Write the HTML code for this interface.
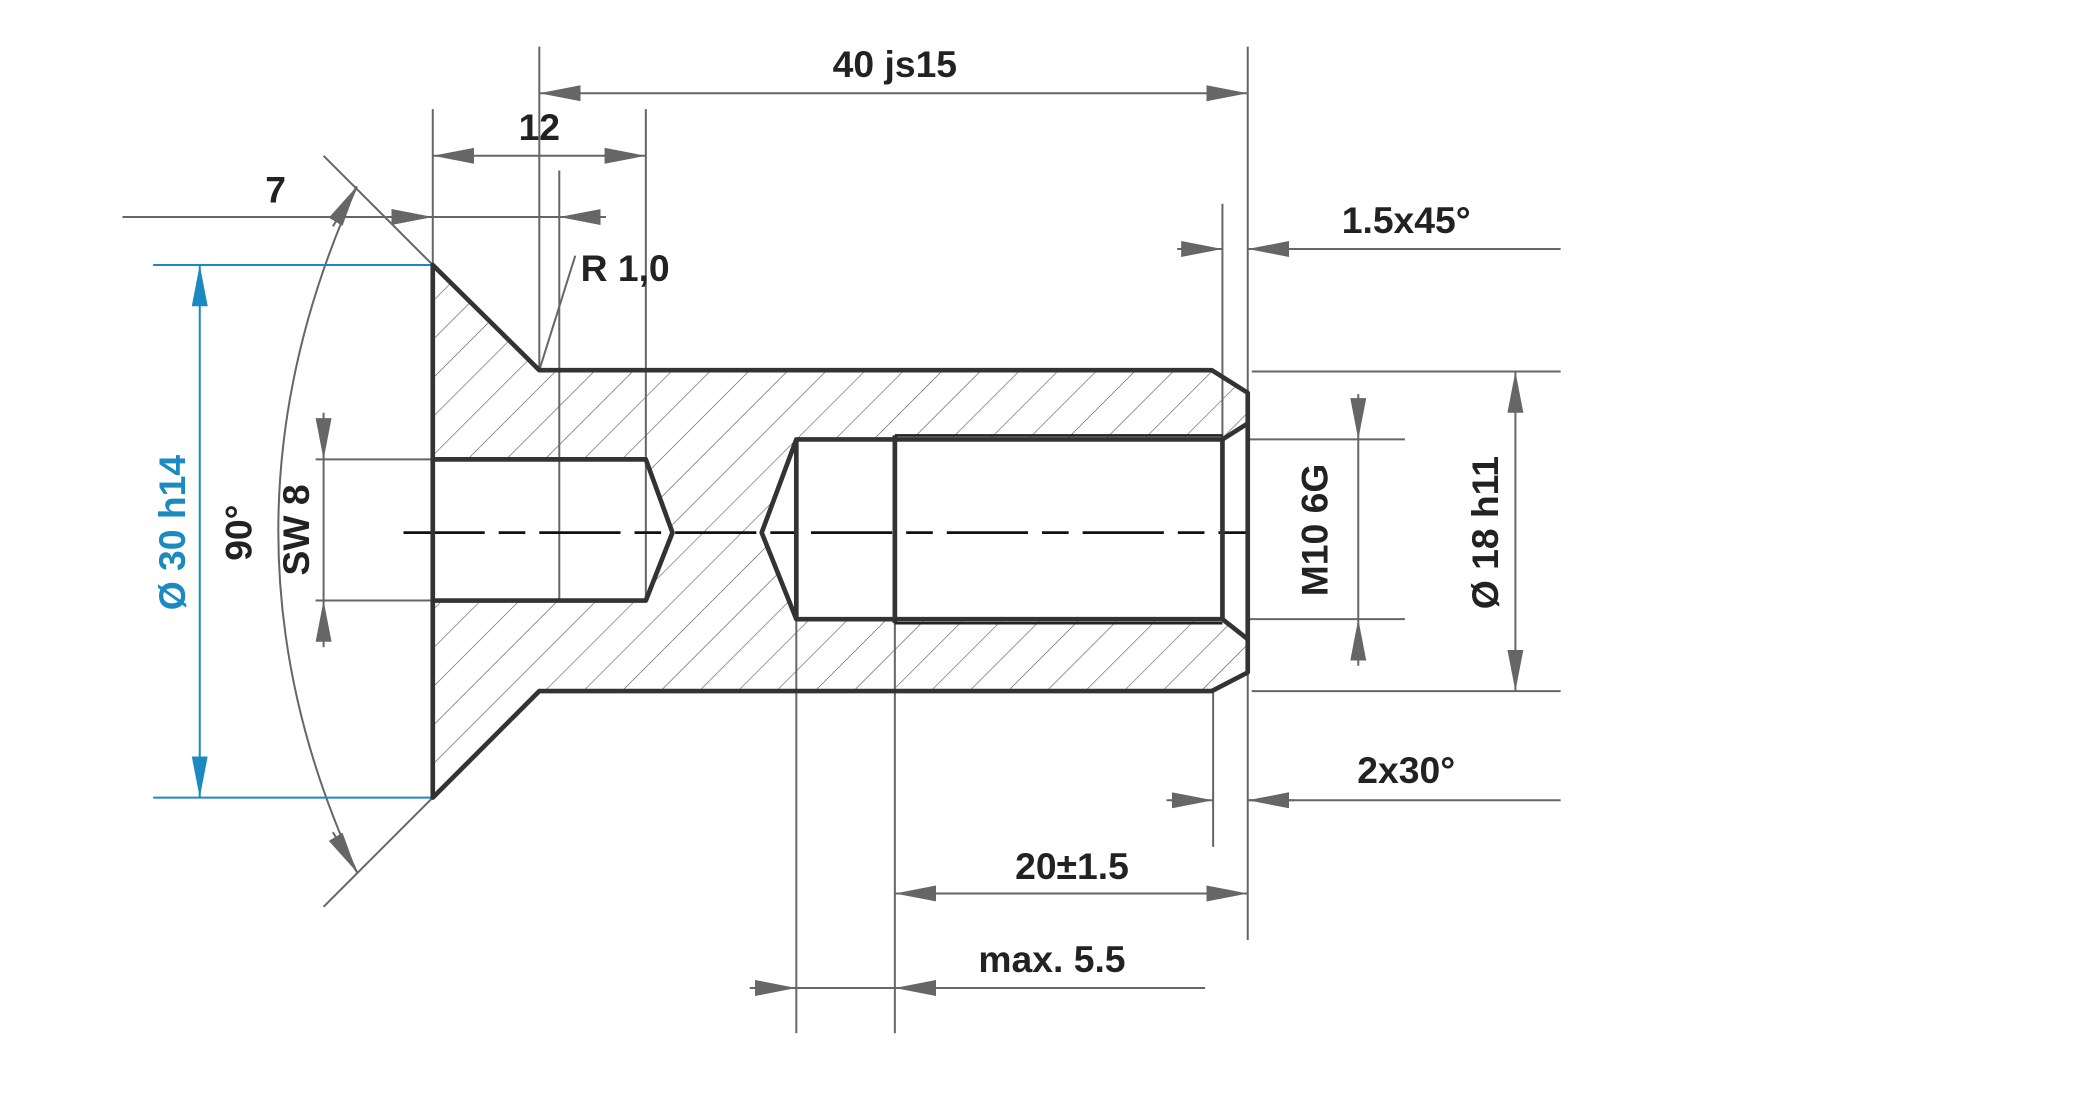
<!DOCTYPE html>
<html><head><meta charset="utf-8"><style>
html,body{margin:0;padding:0;background:#fff;}
svg{display:block;}
text{font-family:"Liberation Sans",Arial,sans-serif;font-weight:bold;font-size:28px;fill:#222;}
</style></head><body>
<svg width="2088" height="1094" viewBox="0 0 1568 821.6" preserveAspectRatio="none" xmlns="http://www.w3.org/2000/svg">
<defs>
<marker id="a" markerUnits="userSpaceOnUse" markerWidth="32" markerHeight="14" refX="31" refY="6" orient="auto-start-reverse"><path d="M0,0 L31,6 L0,12 z" fill="#666"/></marker>
<marker id="b" markerUnits="userSpaceOnUse" markerWidth="32" markerHeight="14" refX="31" refY="6" orient="auto-start-reverse"><path d="M0,0 L31,6 L0,12 z" fill="#1a8ac0"/></marker>
<pattern id="h" patternUnits="userSpaceOnUse" width="20.5" height="20.5" patternTransform="rotate(45)"><line x1="0" y1="0" x2="0" y2="21" stroke="#555" stroke-width="0.9"/></pattern>
</defs>
<path fill-rule="evenodd" fill="url(#h)" d="M325,199 L405,278 L910,278 L937,295 L937,505 L910,519 L405,519 L325,599 Z M325,345 L485,345 L505,400 L485,451 L325,451 Z M598,330 L918,330 L937,318 L937,480 L918,465 L598,465 L572,400 Z"/>
<g stroke="#666" stroke-width="1.5" fill="none">
<line x1="405" y1="35" x2="405" y2="278"/>
<line x1="937" y1="35" x2="937" y2="706"/>
<line x1="325" y1="82" x2="325" y2="199"/>
<line x1="485" y1="82" x2="485" y2="451"/>
<line x1="420" y1="128" x2="420" y2="451"/>
<line x1="92" y1="163" x2="290" y2="163"/>
<line x1="405" y1="278" x2="432" y2="192"/>
<line x1="243" y1="117" x2="325" y2="199"/>
<line x1="243" y1="681" x2="325" y2="599"/>
<path d="M268,140 Q150,400 268,655"/>
<line x1="237" y1="345" x2="325" y2="345"/>
<line x1="237" y1="451" x2="325" y2="451"/>
<line x1="918" y1="153" x2="918" y2="330"/>
<line x1="940" y1="279" x2="1172" y2="279"/>
<line x1="940" y1="519" x2="1172" y2="519"/>
<line x1="937" y1="330" x2="1055" y2="330"/>
<line x1="937" y1="465" x2="1055" y2="465"/>
<line x1="911" y1="519" x2="911" y2="636"/>
<line x1="672" y1="467" x2="672" y2="776"/>
<line x1="598" y1="465" x2="598" y2="776"/>
<line x1="937" y1="187" x2="1172" y2="187"/>
<line x1="937" y1="601" x2="1172" y2="601"/>
<line x1="598" y1="742" x2="672" y2="742"/>
<line x1="672" y1="742" x2="905" y2="742"/>
<line x1="405" y1="70" x2="937" y2="70" marker-start="url(#a)" marker-end="url(#a)"/>
<line x1="325" y1="117" x2="485" y2="117" marker-start="url(#a)" marker-end="url(#a)"/>
<line x1="290" y1="163" x2="325" y2="163" marker-end="url(#a)"/>
<line x1="455" y1="163" x2="325" y2="163"/>
<line x1="455" y1="163" x2="420" y2="163" marker-end="url(#a)"/>
<line x1="250" y1="170" x2="268" y2="140" marker-end="url(#a)"/>
<line x1="250" y1="625" x2="268" y2="655" marker-end="url(#a)"/>
<line x1="243" y1="310" x2="243" y2="345" marker-end="url(#a)"/>
<line x1="243" y1="345" x2="243" y2="451"/>
<line x1="243" y1="486" x2="243" y2="451" marker-end="url(#a)"/>
<line x1="884" y1="187" x2="918" y2="187" marker-end="url(#a)"/>
<line x1="972" y1="187" x2="937" y2="187" marker-end="url(#a)"/>
<line x1="1138" y1="279" x2="1138" y2="519" marker-start="url(#a)" marker-end="url(#a)"/>
<line x1="1020" y1="296" x2="1020" y2="330" marker-end="url(#a)"/>
<line x1="1020" y1="330" x2="1020" y2="465"/>
<line x1="1020" y1="500" x2="1020" y2="465" marker-end="url(#a)"/>
<line x1="876" y1="601" x2="911" y2="601" marker-end="url(#a)"/>
<line x1="972" y1="601" x2="937" y2="601" marker-end="url(#a)"/>
<line x1="672" y1="671" x2="937" y2="671" marker-start="url(#a)" marker-end="url(#a)"/>
<line x1="563" y1="742" x2="598" y2="742" marker-end="url(#a)"/>
<line x1="707" y1="742" x2="672" y2="742" marker-end="url(#a)"/>
</g>
<g stroke="#1a8ac0" stroke-width="1.5">
<line x1="115" y1="199" x2="325" y2="199"/>
<line x1="115" y1="599" x2="325" y2="599"/>
<line x1="150" y1="199" x2="150" y2="599" marker-start="url(#b)" marker-end="url(#b)"/>
</g>
<line x1="303" y1="400" x2="937" y2="400" stroke="#111" stroke-width="2" stroke-dasharray="61,10.5,20,10.5"/>
<g stroke="#333" stroke-width="3.5" fill="none" stroke-linejoin="round">
<path d="M325,199 L405,278 L910,278 L937,295 L937,505 L910,519 L405,519 L325,599 Z"/>
<path d="M325,345 L485,345 L505,400 L485,451 L325,451"/>
<path d="M918,330 L598,330 L572,400 L598,465 L918,465 Z"/>
<line x1="598" y1="330" x2="598" y2="465"/>
<line x1="672" y1="327" x2="672" y2="468"/>
<line x1="918" y1="330" x2="937" y2="318"/>
<line x1="918" y1="465" x2="937" y2="480"/>
</g>
<path d="M672,327 L918,327 M672,468 L918,468" stroke="#222" stroke-width="2" fill="none"/>
<text x="672" y="58" text-anchor="middle">40 js15</text>
<text x="405" y="105" text-anchor="middle">12</text>
<text x="207" y="152" text-anchor="middle">7</text>
<text x="436" y="211">R 1,0</text>
<text x="1056" y="175" text-anchor="middle">1.5x45°</text>
<text x="1056" y="588" text-anchor="middle">2x30°</text>
<text x="805" y="660" text-anchor="middle">20±1.5</text>
<text x="790" y="730" text-anchor="middle">max. 5.5</text>
<text transform="translate(189,400) rotate(-90)" text-anchor="middle">90°</text>
<text transform="translate(232,398) rotate(-90)" text-anchor="middle">SW 8</text>
<text transform="translate(139,400) rotate(-90)" text-anchor="middle" style="fill:#1a8ac0">Ø 30 h14</text>
<text transform="translate(997,398) rotate(-90)" text-anchor="middle">M10 6G</text>
<text transform="translate(1125,400) rotate(-90)" text-anchor="middle">Ø 18 h11</text>
</svg>
</body></html>
